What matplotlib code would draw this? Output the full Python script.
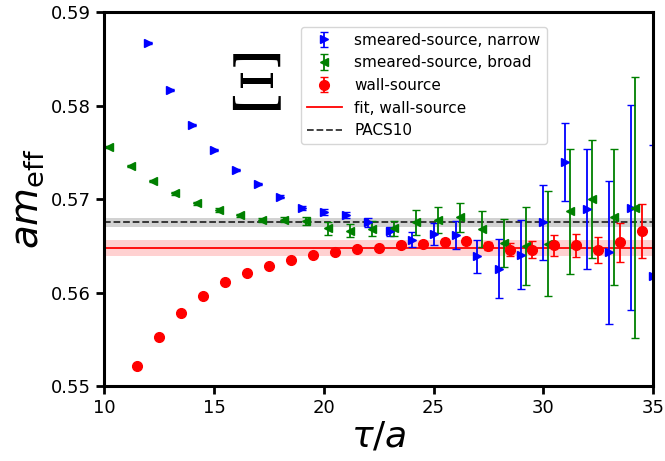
import numpy as np
import matplotlib
matplotlib.use("Agg")
import matplotlib.pyplot as plt

# smeared-source, narrow (blue)
t_narrow = np.arange(12, 36)
narrow = [0.58669, 0.58173, 0.57790, 0.57526, 0.57315, 0.57162, 0.57026, 0.56905,
          0.56862, 0.56833, 0.56750, 0.56654, 0.56565, 0.56626, 0.56618, 0.56386,
          0.56257, 0.56407, 0.56750, 0.57400, 0.56894, 0.56429, 0.56910, 0.56179]
narrow_err = [0.0001, 0.0001, 0.0001, 0.0001, 0.00012, 0.00013, 0.00015, 0.0002,
              0.0003, 0.0003, 0.0005, 0.0005, 0.0008, 0.0012, 0.0015, 0.0018,
              0.0032, 0.0037, 0.0040, 0.0042, 0.0064, 0.0077, 0.0110, 0.0140]

# smeared-source, broad (green)
t_broad = np.arange(10, 35) + 0.2
broad = [0.57558, 0.57358, 0.57197, 0.57061, 0.56954, 0.56883, 0.56825, 0.56776,
         0.56782, 0.56768, 0.56690, 0.56661, 0.56683, 0.56690, 0.56750, 0.56779,
         0.56804, 0.56680, 0.56529, 0.56500, 0.56522, 0.56868, 0.57001, 0.56808, 0.56910]
broad_err = [0.0001, 0.0001, 0.0001, 0.00012, 0.00014, 0.00018, 0.0002, 0.00025,
             0.0003, 0.0004, 0.0007, 0.0007, 0.0008, 0.0008, 0.0013, 0.0014,
             0.0016, 0.0019, 0.0026, 0.0042, 0.0056, 0.0067, 0.0063, 0.0073, 0.0140]

# wall-source (red)
t_wall = np.arange(11, 35) + 0.5
wall = [0.55214, 0.55528, 0.55779, 0.55961, 0.56111, 0.56214, 0.56289, 0.56350,
        0.56397, 0.56429, 0.56465, 0.56482, 0.56514, 0.56519, 0.56543, 0.56554,
        0.56500, 0.56458, 0.56458, 0.56504, 0.56504, 0.56458, 0.56536, 0.56658]
wall_err = [0.00005, 0.00005, 0.00005, 0.00005, 0.00005, 0.00006, 0.00007, 0.00008,
            0.0001, 0.0001, 0.00012, 0.00015, 0.00018, 0.0002, 0.00025, 0.0003,
            0.0004, 0.0007, 0.0009, 0.0011, 0.0012, 0.0014, 0.0021, 0.0029]

# fit wall-source and PACS10 value
fit_val, fit_err = 0.56476, 0.00087
pacs_val, pacs_err = 0.5675, 0.0005

fig = plt.figure(figsize=(6.65, 4.61), dpi=100)
ax = fig.add_axes([0.157, 0.163, 0.825, 0.81])

xr = [10, 35]
ax.fill_between(xr, pacs_val - pacs_err, pacs_val + pacs_err, color='grey', alpha=0.35, lw=0)
l_pacs, = ax.plot(xr, [pacs_val, pacs_val], '--', color='k', lw=1.3, alpha=0.8, label='PACS10')
ax.fill_between(xr, fit_val - fit_err, fit_val + fit_err, color='red', alpha=0.18, lw=0)
l_fit, = ax.plot(xr, [fit_val, fit_val], '-', color='red', lw=1.3, label='fit, wall-source')

e1 = ax.errorbar(t_narrow, narrow, yerr=narrow_err, fmt='>', color='blue', ms=5.5,
                 capsize=3, elinewidth=1.3, label='smeared-source, narrow')
e2 = ax.errorbar(t_broad, broad, yerr=broad_err, fmt='<', color='green', ms=5.5,
                 capsize=3, elinewidth=1.3, label='smeared-source, broad')
e3 = ax.errorbar(t_wall, wall, yerr=wall_err, fmt='o', color='red', ms=7,
                 capsize=3, elinewidth=1.3, label='wall-source')

# Xi label, serif
ax.text(16.85, 0.5821, r'$\Xi$', fontsize=60, ha='center', va='center', math_fontfamily='cm')

ax.set_xlim(10, 35)
ax.set_ylim(0.55, 0.59)
ax.set_xticks([10, 15, 20, 25, 30, 35])
ax.set_yticks([0.55, 0.56, 0.57, 0.58, 0.59])
ax.tick_params(labelsize=13, width=2, length=6)
for s in ax.spines.values():
    s.set_linewidth(2.2)

ax.set_xlabel(r'$\tau/a$', fontsize=26, labelpad=2)
ax.set_ylabel(r'$am_{\rm eff}$', fontsize=28, labelpad=4)

ax.legend(handles=[e1, e2, e3, l_fit, l_pacs], loc='upper right',
          bbox_to_anchor=(0.806, 0.962), borderaxespad=0, fontsize=11, handlelength=2.3)

fig.savefig('out.png', dpi=100)
